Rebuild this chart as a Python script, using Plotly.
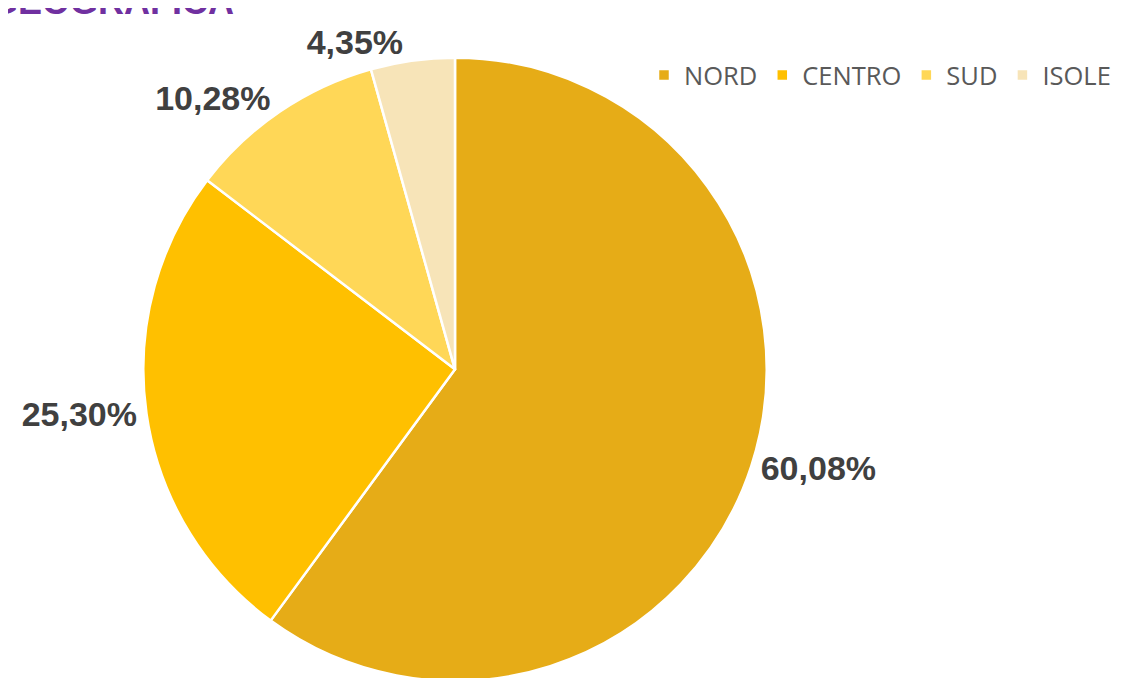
import plotly.graph_objects as go

# share by area (%)
areas = ["NORD", "CENTRO", "SUD", "ISOLE"]
shares = [60.08, 25.30, 10.28, 4.35]
colors = ["#E6AC17", "#FFC000", "#FFD757", "#F7E4B8"]

W, H = 1121, 678

fig = go.Figure(
    go.Pie(
        labels=areas,
        values=shares,
        sort=False,
        direction="clockwise",
        rotation=0,
        marker=dict(colors=colors, line=dict(color="white", width=2.5)),
        texttemplate="%{value:.2f}%",
        textposition="outside",
        textfont=dict(family="Liberation Sans, Arial", size=34, color="#404040", weight="bold"),
        domain=dict(x=[133 / W, 761 / W], y=[0, 1 - 50 / H]),
        hoverinfo="label+percent",
    )
)

# title is cut off by the top of the image, only the lower part shows
fig.add_annotation(
    text="GEOGRAFICA",
    xref="paper", yref="paper",
    x=228 / W, y=1 + 7 / H,
    xanchor="right", yanchor="middle",
    showarrow=False,
    font=dict(family="Liberation Sans, Arial", size=36, color="#7030A0", weight="bold"),
)

fig.update_layout(
    width=W,
    height=H,
    margin=dict(l=0, r=0, t=0, b=0),
    paper_bgcolor="white",
    separators=",.",
    showlegend=True,
    legend=dict(
        orientation="h",
        x=636 / W, xanchor="left",
        y=1 - 68 / H, yanchor="middle",
        font=dict(family="Open Sans, Liberation Sans", size=25.5, color="#595959"),
        itemwidth=30,
        traceorder="normal",
    ),
)

fig.write_html("out.html")
